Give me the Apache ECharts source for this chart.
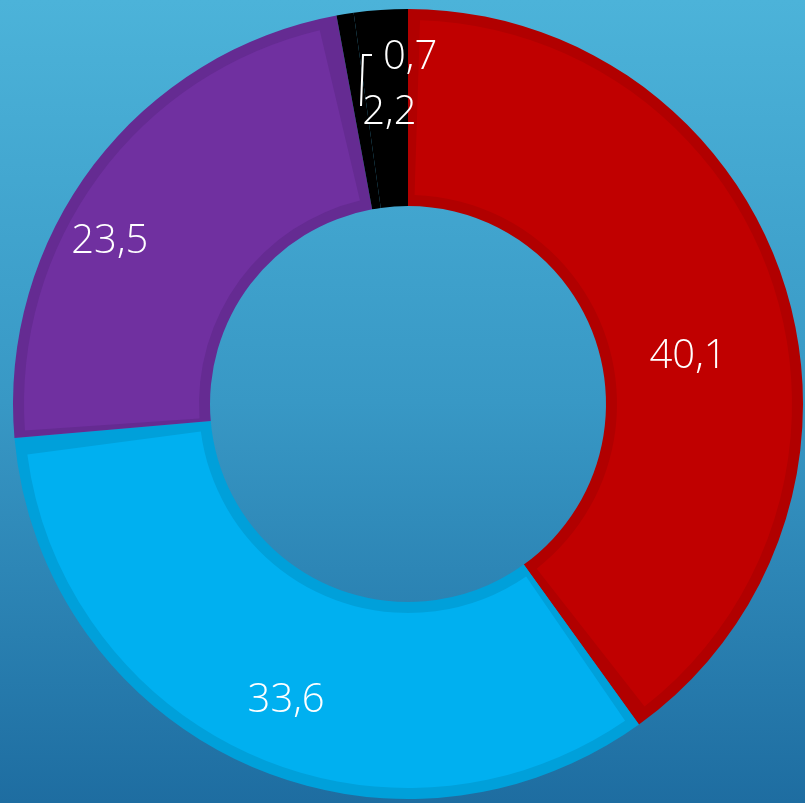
<!DOCTYPE html>
<html>
<head>
<meta charset="utf-8">
<script src="https://cdn.jsdelivr.net/npm/echarts@6/dist/echarts.min.js"></script>
<style>
  html, body { margin: 0; padding: 0; }
  #chart { width: 805px; height: 803px; }
</style>
</head>
<body>
<div id="chart"></div>
<script>
const categories = ['A', 'B', 'C', 'D', 'E'];
const values = [40.1, 33.6, 23.5, 0.7, 2.2];
const fillColors = ['#c00000', '#00b0f0', '#7030a0', '#000000', '#000000'];
const edgeColors = ['#b10000', '#00a0da', '#652b92', '#000000', '#000000'];

const center = [408, 404];
const inner = 198;
const outer = 395;
const edge = 11;

// where each label sits relative to its default inside spot
const labelOffsets = [[-5, 45], [3, 24], [-60, 19], [0, 0], [2, 7]];

const fmt = (v) => String(v).replace('.', ',');

const chart = echarts.init(document.getElementById('chart'));

const base = {
  type: 'pie',
  center: center,
  startAngle: 90,
  clockwise: true,
  silent: true,
  animation: false,
  avoidLabelOverlap: false,
};

const option = {
  backgroundColor: new echarts.graphic.LinearGradient(0, 0, 0, 1, [
    { offset: 0, color: '#4cb3d9' },
    { offset: 0.5, color: '#3898c5' },
    { offset: 1, color: '#1e6da1' },
  ]),
  series: [
    // dark rim under everything
    Object.assign({}, base, {
      radius: [inner, outer],
      label: { show: false },
      labelLine: { show: false },
      data: values.map((v, i) => ({
        name: categories[i],
        value: v,
        itemStyle: { color: edgeColors[i] },
      })),
    }),
    // lighter fill, inset
    Object.assign({}, base, {
      radius: [inner + edge, outer - edge],
      padAngle: 3.6,
      label: { show: false },
      labelLine: { show: false },
      data: values.map((v, i) => ({
        name: categories[i],
        value: v,
        itemStyle: { color: fillColors[i] },
      })),
    }),
    // labels only, on top so the leader line is not hidden
    Object.assign({}, base, {
      z: 5,
      radius: [inner, outer],
      itemStyle: { color: 'rgba(0,0,0,0)' },
      label: {
        show: true,
        position: 'outside',
        color: '#ffffff',
        fontFamily: 'Open Sans',
        fontWeight: 300,
        fontSize: 40,
        formatter: (p) => fmt(p.value),
      },
      labelLine: {
        show: true,
        length: 10,
        length2: 10,
        lineStyle: { color: '#ffffff', width: 2 },
      },
      labelLayout: (p) => {
        if (p.dataIndex === 3) {
          return {
            x: center[0] - 25,
            y: center[1] - 346,
            align: 'left',
            verticalAlign: 'middle',
            labelLinePoints: [
              [center[0] - 47, center[1] - 298],
              [center[0] - 45, center[1] - 349],
              [center[0] - 36, center[1] - 349],
            ],
          };
        }
        const o = labelOffsets[p.dataIndex];
        return { dx: o[0], dy: o[1] };
      },
      data: values.map((v, i) => ({
        name: categories[i],
        value: v,
        label: i === 3 ? {} : { position: 'inside' },
        labelLine: i === 3 ? {} : { show: false },
      })),
    }),
  ],
};

chart.setOption(option);
</script>
</body>
</html>
